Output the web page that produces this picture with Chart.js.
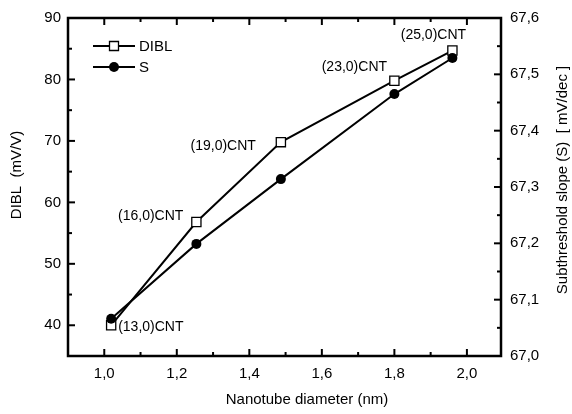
<!DOCTYPE html>
<html>
<head>
<meta charset="utf-8">
<script src="https://cdn.jsdelivr.net/npm/chart.js@4.4.0/dist/chart.umd.min.js"></script>
<style>
  html, body { margin: 0; padding: 0; background: #fff; }
  #wrap { width: 572px; height: 414px; }
</style>
</head>
<body>
<div id="wrap"><canvas id="chart"></canvas></div>
<script>
/* ---------- data ---------- */
const diameters  = [1.019, 1.254, 1.487, 1.80, 1.96];
const dibl       = [40.0, 56.8, 69.8, 79.8, 84.7];
const slope      = [67.066, 67.199, 67.314, 67.465, 67.529];
const tubeLabels = ['(13,0)CNT', '(16,0)CNT', '(19,0)CNT', '(23,0)CNT', '(25,0)CNT'];
const xTicks     = [1.0, 1.2, 1.4, 1.6, 1.8, 2.0];
const leftTicks  = [40, 50, 60, 70, 80, 90];
const rightTicks = [67.0, 67.1, 67.2, 67.3, 67.4, 67.5, 67.6];

/* ---------- helpers ---------- */
const FONT = "'Liberation Sans', Arial, sans-serif";
const comma = v => v.toFixed(1).replace('.', ',');

// label offsets (px) from each DIBL marker
const labelOffsets = [
  [7, 2, 'left'], [-13, -6, 'right'], [-25, 4, 'right'], [-40, -14, 'center'], [-19, -15, 'center'],
];

const framePlugin = {
  id: 'frame',
  afterDatasetsDraw(chart) {
    const { ctx, chartArea: a, scales } = chart;
    ctx.save();
    ctx.strokeStyle = '#000';
    ctx.lineWidth = 2;

    // inward ticks, major + minor
    const tick = (x1, y1, x2, y2) => { ctx.beginPath(); ctx.moveTo(x1, y1); ctx.lineTo(x2, y2); ctx.stroke(); };
    const xs = scales.x;
    for (let i = 0; i < xTicks.length; i++) {
      const px = xs.getPixelForValue(xTicks[i]);
      tick(px, a.bottom, px, a.bottom - 7);
      tick(px, a.top, px, a.top + 7);
      const m = xs.getPixelForValue(xTicks[i] - 0.1);
      if (m > a.left + 1) { tick(m, a.bottom, m, a.bottom - 4); tick(m, a.top, m, a.top + 4); }
    }
    const ys = scales.y;
    leftTicks.forEach(v => {
      const py = ys.getPixelForValue(v);
      tick(a.left, py, a.left + 7, py);
      const m = ys.getPixelForValue(v - 5);
      if (m < a.bottom - 1) tick(a.left, m, a.left + 4, m);
    });
    const ys1 = scales.y1;
    rightTicks.forEach(v => {
      const py = ys1.getPixelForValue(v);
      tick(a.right, py, a.right - 7, py);
      const m = ys1.getPixelForValue(v - 0.05);
      if (m < a.bottom - 1) tick(a.right, m, a.right - 4, m);
    });

    // frame
    ctx.lineWidth = 2.5;
    ctx.strokeRect(a.left, a.top, a.right - a.left, a.bottom - a.top);

    // point labels
    ctx.fillStyle = '#000';
    ctx.font = '14px ' + FONT;
    ctx.textBaseline = 'middle';
    tubeLabels.forEach((t, i) => {
      const px = xs.getPixelForValue(diameters[i]);
      const py = ys.getPixelForValue(dibl[i]);
      const [dx, dy, al] = labelOffsets[i];
      ctx.textAlign = al;
      ctx.fillText(t, px + dx, py + dy);
    });

    // legend
    const lx = a.left + 25, mx = a.left + 46;
    const rows = [
      { y: a.top + 28, label: 'DIBL', square: true },
      { y: a.top + 49, label: 'S', square: false },
    ];
    ctx.font = '15px ' + FONT;
    ctx.textAlign = 'left';
    rows.forEach(r => {
      ctx.lineWidth = 2;
      tick(lx, r.y, lx + 42, r.y);
      ctx.beginPath();
      if (r.square) {
        ctx.fillStyle = '#fff';
        ctx.rect(mx - 4.5, r.y - 4.5, 9, 9);
        ctx.fill();
        ctx.lineWidth = 1.3;
        ctx.stroke();
      } else {
        ctx.fillStyle = '#000';
        ctx.arc(mx, r.y, 5, 0, Math.PI * 2);
        ctx.fill();
      }
      ctx.fillStyle = '#000';
      ctx.fillText(r.label, lx + 46, r.y + 1);
    });

    // axis titles
    ctx.font = '15px ' + FONT;
    ctx.textAlign = 'center';
    ctx.fillText('Nanotube diameter (nm)', 307, 400);
    ctx.save();
    ctx.translate(17, 175);
    ctx.rotate(-Math.PI / 2);
    ctx.fillText('DIBL  (mV/V)', 0, 0);
    ctx.restore();
    ctx.save();
    ctx.translate(563, 180);
    ctx.rotate(-Math.PI / 2);
    ctx.fillText('Subthreshold slope (S)  [ mV/dec ]', 0, 0);
    ctx.restore();
    ctx.restore();
  },
};

const tickFont = { family: FONT, size: 15 };

new Chart(document.getElementById('chart'), {
  type: 'line',
  data: {
    datasets: [
      {
        label: 'DIBL',
        data: diameters.map((d, i) => ({ x: d, y: dibl[i] })),
        yAxisID: 'y',
        order: 1,
        borderColor: '#000',
        borderWidth: 2,
        pointStyle: 'rect',
        pointRadius: 6.5,
        pointBackgroundColor: '#fff',
        pointBorderColor: '#000',
        pointBorderWidth: 1.3,
        tension: 0,
      },
      {
        label: 'S',
        data: diameters.map((d, i) => ({ x: d, y: slope[i] })),
        yAxisID: 'y1',
        order: 0,
        borderColor: '#000',
        borderWidth: 2,
        pointStyle: 'circle',
        pointRadius: 5,
        pointBackgroundColor: '#000',
        pointBorderColor: '#000',
        pointBorderWidth: 0,
        tension: 0,
      },
    ],
  },
  options: {
    responsive: true,
    maintainAspectRatio: false,
    animation: false,
    layout: { padding: { top: 17, left: 0, right: 0, bottom: 0 } },
    plugins: { legend: { display: false }, tooltip: { enabled: false } },
    scales: {
      x: {
        type: 'linear',
        position: 'bottom',
        min: 0.9,
        max: 2.094,
        grid: { display: false, drawTicks: false },
        border: { display: false },
        afterBuildTicks: s => { s.ticks = xTicks.map(v => ({ value: v })); },
        afterFit: s => { s.height = 58; },
        ticks: { color: '#000', font: tickFont, padding: 9, callback: v => comma(v) },
      },
      y: {
        type: 'linear',
        position: 'left',
        min: 35,
        max: 90,
        grid: { display: false, drawTicks: false },
        border: { display: false },
        afterBuildTicks: s => { s.ticks = leftTicks.map(v => ({ value: v })); },
        afterFit: s => { s.width = 68; },
        ticks: { color: '#000', font: tickFont, padding: 7, callback: v => String(v) },
      },
      y1: {
        type: 'linear',
        position: 'right',
        min: 67.0,
        max: 67.6,
        grid: { display: false, drawTicks: false },
        border: { display: false },
        afterBuildTicks: s => { s.ticks = rightTicks.map(v => ({ value: v })); },
        afterFit: s => { s.width = 71; },
        ticks: { color: '#000', font: tickFont, padding: 9, callback: v => comma(v) },
      },
    },
  },
  plugins: [framePlugin],
});
</script>
</body>
</html>
